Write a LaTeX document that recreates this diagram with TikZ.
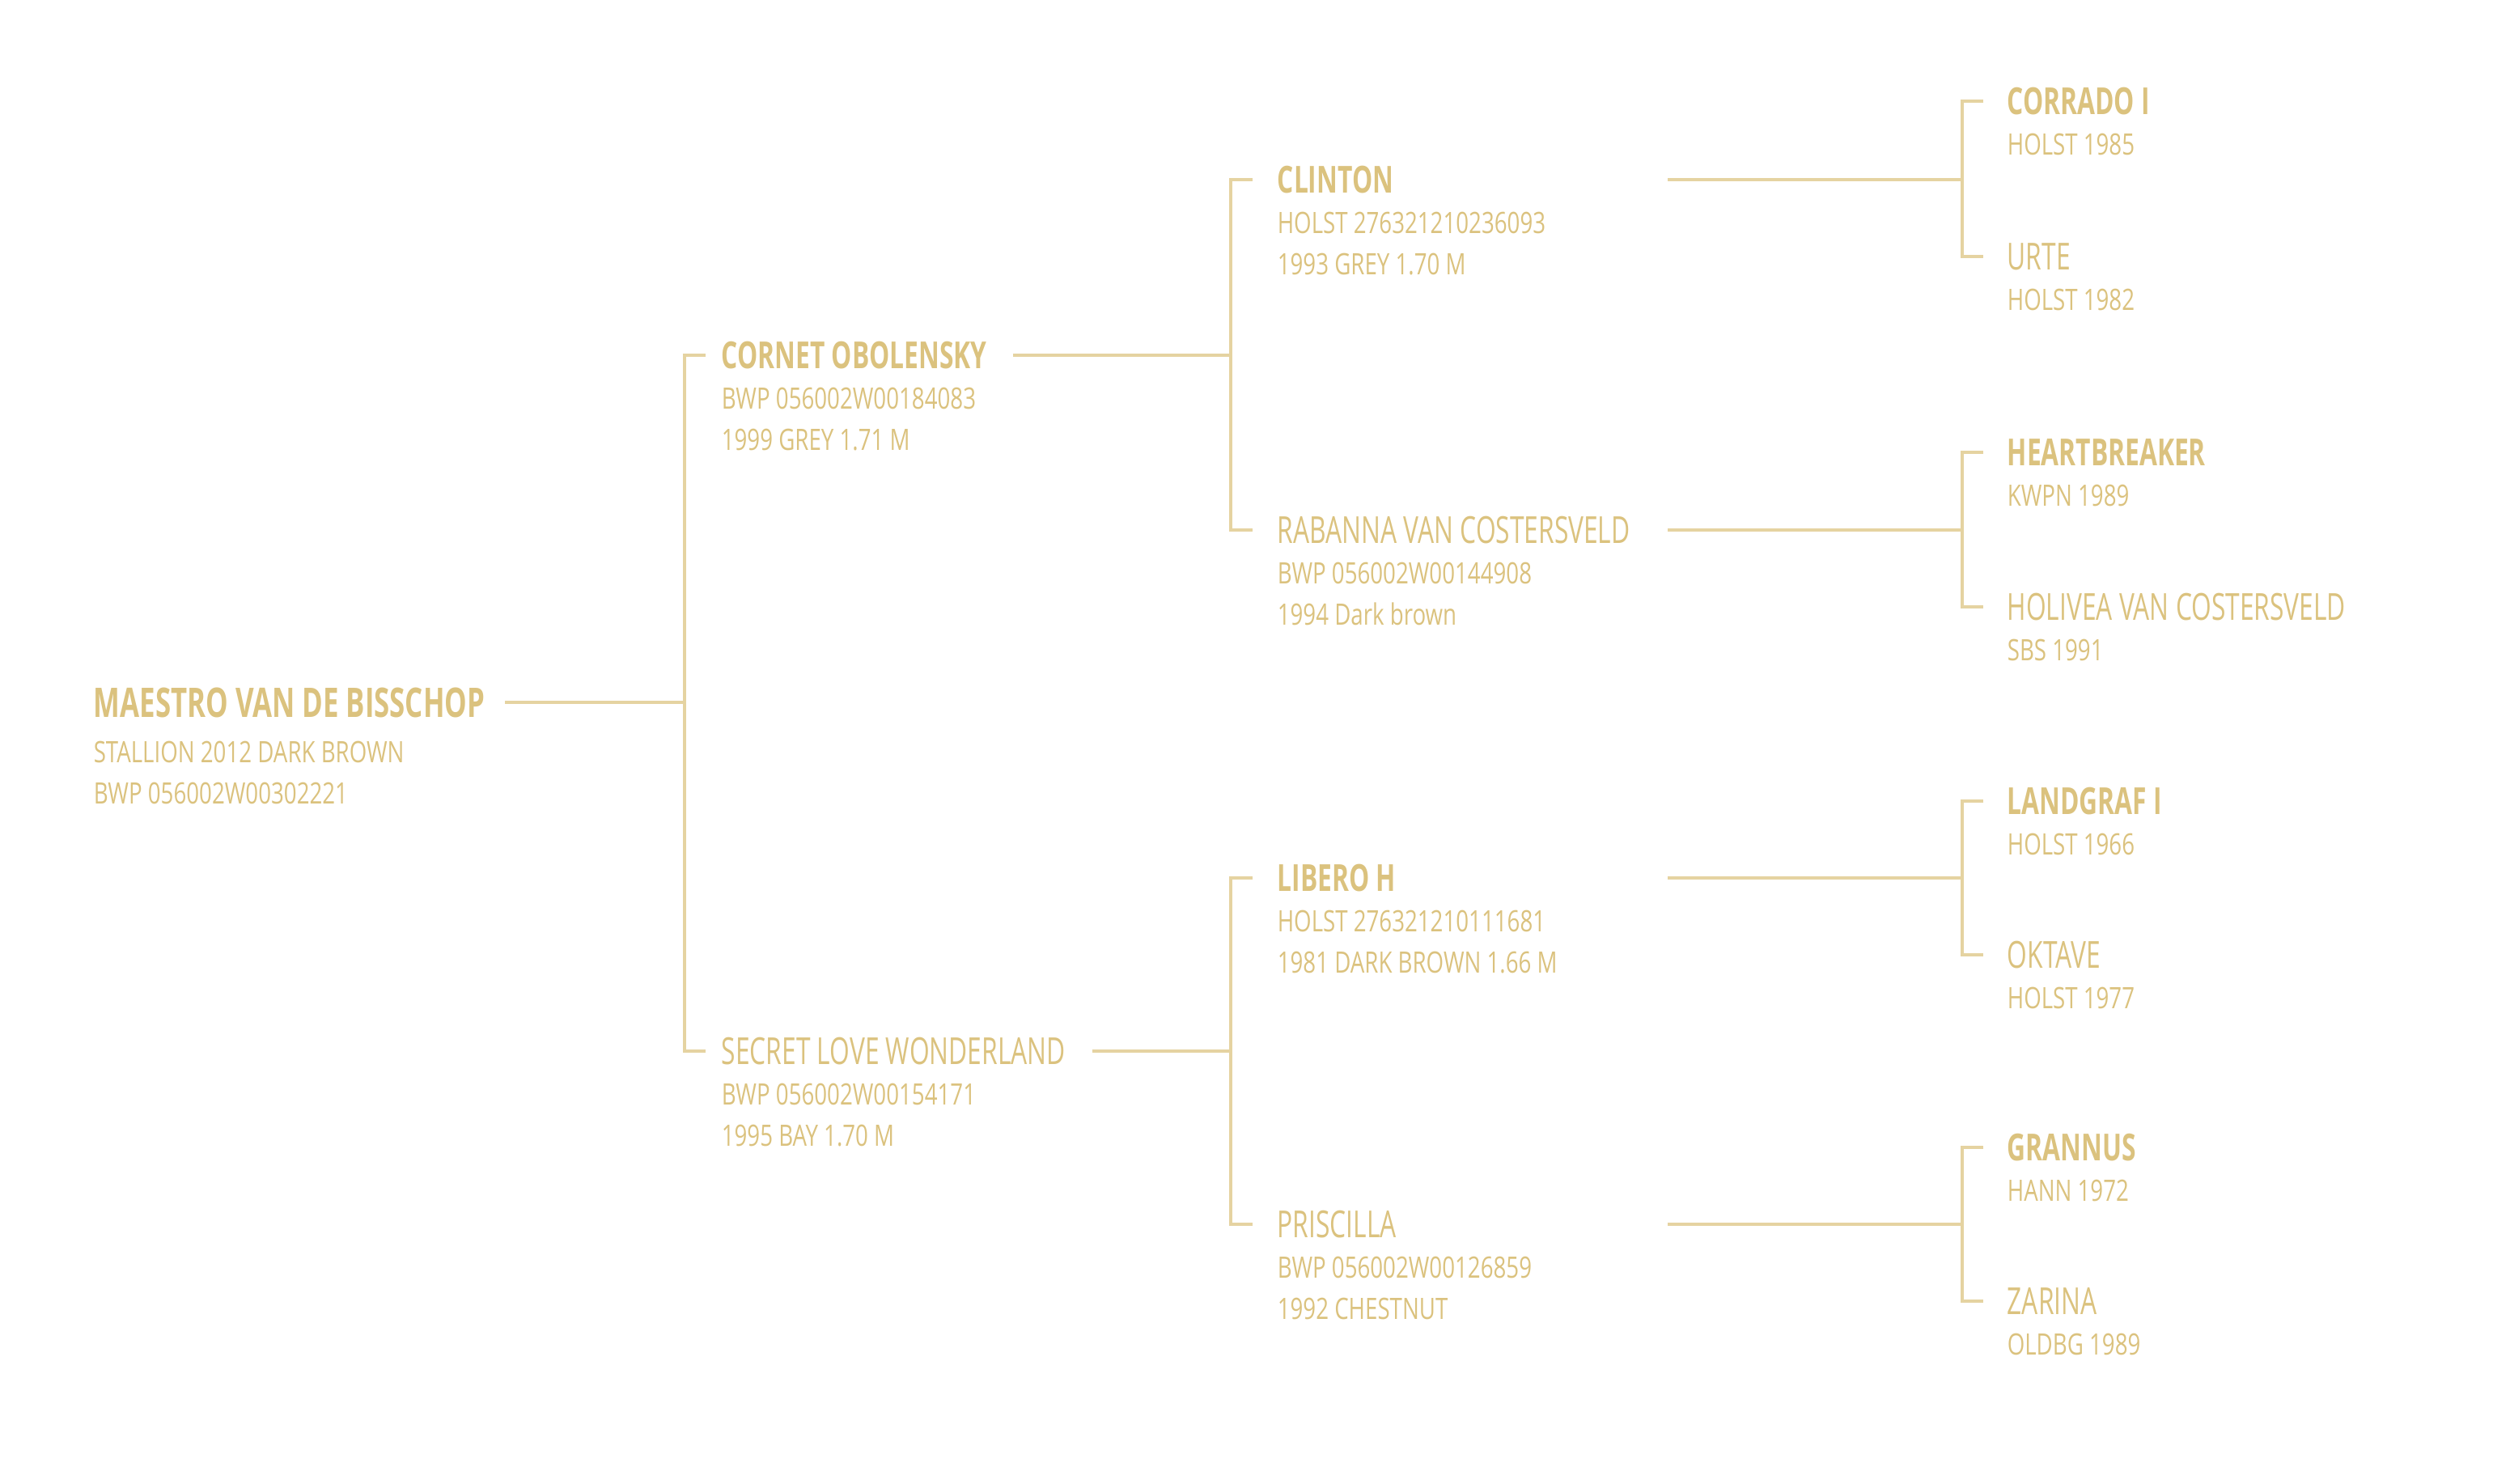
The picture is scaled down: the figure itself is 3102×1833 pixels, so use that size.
\documentclass[tikz,border=0pt]{standalone}
\usepackage{fontspec}
\newfontfamily\namefont{Open Sans}[FakeStretch=0.69]
\newfontfamily\infofont{Open Sans}[FakeStretch=0.76]
\usepackage{xcolor}
\definecolor{gold}{HTML}{DBC27E}
\definecolor{goldline}{HTML}{E5D3A1}
\usetikzlibrary{calc}
\tikzset{
  sire/.style={font=\namefont\bfseries\fontsize{11.5}{13}\selectfont, text=gold,
    inner sep=0pt, anchor=west, text height=8.2pt, text depth=0pt},
  dam/.style={sire, font=\namefont\fontsize{11.5}{13}\selectfont},
  info/.style={font=\infofont\fontsize{9.1}{12.75}\selectfont, text=gold,
    inner sep=0pt, anchor=north west, align=left},
  link/.style={draw=goldline, line width=0.85pt}
}

\begin{document}
\begin{tikzpicture}[x=0.25pt, y=-0.25pt]
\fill[white] (0,0) rectangle (3102,1833);
\useasboundingbox (0,0) rectangle (3102,1833);
% columns of the forks
\coordinate (col1) at (846,0);
\coordinate (col2) at (1521,0);
\coordinate (rail3) at (2061,0);
\coordinate (col3) at (2425,0);
% the horse itself
\node[sire, font=\namefont\bfseries\fontsize{12.6}{14}\selectfont, text height=9pt] (maestro) at (115,868) {MAESTRO VAN DE BISSCHOP};
\node[info] (maestro-info) at ([yshift=-7pt]maestro.south west) {STALLION 2012 DARK BROWN\\BWP 056002W00302221};
% parents
\node[sire] (cornet) at (891,439) {CORNET OBOLENSKY};
\node[info] (cornet-info) at ([yshift=-5.5pt]cornet.south west) {BWP 056002W00184083\\1999 GREY 1.71 M};
\node[dam] (secret) at (891,1299) {SECRET LOVE WONDERLAND};
\node[info] (secret-info) at ([yshift=-5.5pt]secret.south west) {BWP 056002W00154171\\1995 BAY 1.70 M};
% grandparents
\node[sire] (clinton) at (1578,222) {CLINTON};
\node[info] (clinton-info) at ([yshift=-5.5pt]clinton.south west) {HOLST 276321210236093\\1993 GREY 1.70 M};
\node[dam] (rabanna) at (1578,655) {RABANNA VAN COSTERSVELD};
\node[info] (rabanna-info) at ([yshift=-5.5pt]rabanna.south west) {BWP 056002W00144908\\1994 Dark brown};
\node[sire] (libero) at (1578,1085) {LIBERO H};
\node[info] (libero-info) at ([yshift=-5.5pt]libero.south west) {HOLST 276321210111681\\1981 DARK BROWN 1.66 M};
\node[dam] (priscilla) at (1578,1513) {PRISCILLA};
\node[info] (priscilla-info) at ([yshift=-5.5pt]priscilla.south west) {BWP 056002W00126859\\1992 CHESTNUT};
% great-grandparents
\foreach \n/\y/\t/\i/\s in {corrado/125/CORRADO I/HOLST 1985/sire,
  urte/317/URTE/HOLST 1982/dam,
  heartbreaker/559/HEARTBREAKER/KWPN 1989/sire,
  holivea/750/HOLIVEA VAN COSTERSVELD/SBS 1991/dam,
  landgraf/990/LANDGRAF I/HOLST 1966/sire,
  oktave/1180/OKTAVE/HOLST 1977/dam,
  grannus/1418/GRANNUS/HANN 1972/sire,
  zarina/1608/ZARINA/OLDBG 1989/dam} {
  \node[\s] (\n) at (2480,\y) {\t};
  \node[info] (\n-info) at ([yshift=-5.5pt]\n.south west) {\i};
}
% connectors
\draw[link] ([xshift=6pt]maestro.east) -- (maestro -| col1);
\draw[link] ([xshift=-4.75pt]cornet.west) -| (maestro -| col1) |- ([xshift=-4.75pt]secret.west);
\foreach \p/\a/\b in {cornet/clinton/rabanna, secret/libero/priscilla} {
  \draw[link] ([xshift=8pt]\p.east) -- (\p -| col2);
  \draw[link] ([xshift=-7.5pt]\a.west) -| (\p -| col2) |- ([xshift=-7.5pt]\b.west);
}
\foreach \p/\a/\b in {clinton/corrado/urte, rabanna/heartbreaker/holivea,
  libero/landgraf/oktave, priscilla/grannus/zarina} {
  \draw[link] (\p -| rail3) -- (\p -| col3);
  \draw[link] ([xshift=-7.25pt]\a.west) -| (\p -| col3) |- ([xshift=-7.25pt]\b.west);
}
\end{tikzpicture}
\end{document}
